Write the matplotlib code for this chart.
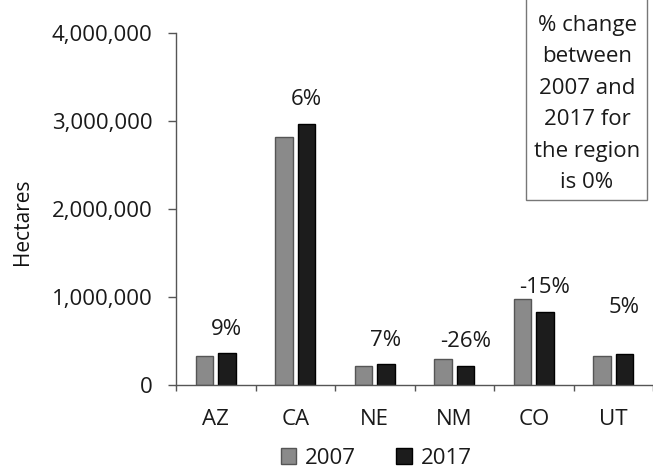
import matplotlib
matplotlib.use("Agg")
import matplotlib.pyplot as plt
import numpy as np
from matplotlib.patches import Rectangle
from matplotlib.ticker import FuncFormatter, FixedLocator

plt.rcParams['font.family'] = ['Open Sans', 'DejaVu Sans']

states = ["AZ", "CA", "NE", "NM", "CO", "UT"]
hectares_2007 = [330000, 2820000, 220000, 295000, 977000, 333000]
hectares_2017 = [360000, 2970000, 235000, 218000, 830000, 350000]
pct_change = ["9%", "6%", "7%", "-26%", "-15%", "5%"]
label_lift_px = [24, 24, 24, 24, 24, 47]
note_text = "% change\nbetween\n2007 and\n2017 for\nthe region\nis 0%"

W, H = 653, 476
fig = plt.figure(figsize=(W / 100, H / 100), dpi=100)
ax = fig.add_axes([176 / W, 1 - 385 / H, (653 - 176) / W, (385 - 33) / H])

x = np.arange(len(states))
bw = 0.22
off = 0.14
ax.bar(x - off, hectares_2007, bw, color="#8a8a8a", edgecolor="#555555",
       linewidth=1.0, label="2007")
ax.bar(x + off, hectares_2017, bw, color="#1c1c1c", edgecolor="#000000",
       linewidth=1.0, label="2017")

for xi, v, t, lift in zip(x, hectares_2017, pct_change, label_lift_px):
    ax.annotate(t, (xi + off, v), xytext=(0, lift * 0.72),
                textcoords="offset points", ha="center", va="center",
                fontsize=16, color="#1a1a1a")

ax.set_xlim(-0.5, len(states) - 0.5)
ax.set_ylim(0, 4000000)
ax.set_yticks([0, 1000000, 2000000, 3000000, 4000000])
ax.yaxis.set_major_formatter(FuncFormatter(lambda v, p: f"{int(v):,}"))
ax.tick_params(axis="y", length=5.8, width=1, color="#555555", pad=11,
               labelsize=16, labelcolor="#1a1a1a")

ax.set_xticks(x)
ax.set_xticklabels(states)
ax.xaxis.set_minor_locator(FixedLocator(np.arange(-0.5, len(states), 1.0)))
ax.tick_params(axis="x", which="major", length=0, pad=17, labelsize=16,
               labelcolor="#1a1a1a")
ax.tick_params(axis="x", which="minor", length=4.5, width=1, color="#555555")

for s in ["top", "right"]:
    ax.spines[s].set_visible(False)
for s in ["left", "bottom"]:
    ax.spines[s].set_color("#555555")
    ax.spines[s].set_linewidth(1)

fig.text(23 / W, 1 - 222 / H, "Hectares", rotation=90, ha="center",
         va="center", fontsize=15, color="#111111")

# note box in the upper-right corner
fig.patches.append(Rectangle((526 / W, 1 - 200 / H), (647 - 526) / W,
                             210 / H, transform=fig.transFigure,
                             facecolor="white", edgecolor="#777777",
                             linewidth=1, clip_on=False))
fig.text(587 / W, 1 - 104 / H, note_text, ha="center", va="center",
         fontsize=16, linespacing=1.65, color="#1a1a1a")

fig.legend(loc="center", bbox_to_anchor=(376 / W, 1 - 458 / H), ncol=2,
           frameon=False, fontsize=16, handlelength=0.7, handleheight=0.7,
           handletextpad=0.4, columnspacing=1.8, labelcolor="#1a1a1a")

fig.savefig("out.png", dpi=100)
